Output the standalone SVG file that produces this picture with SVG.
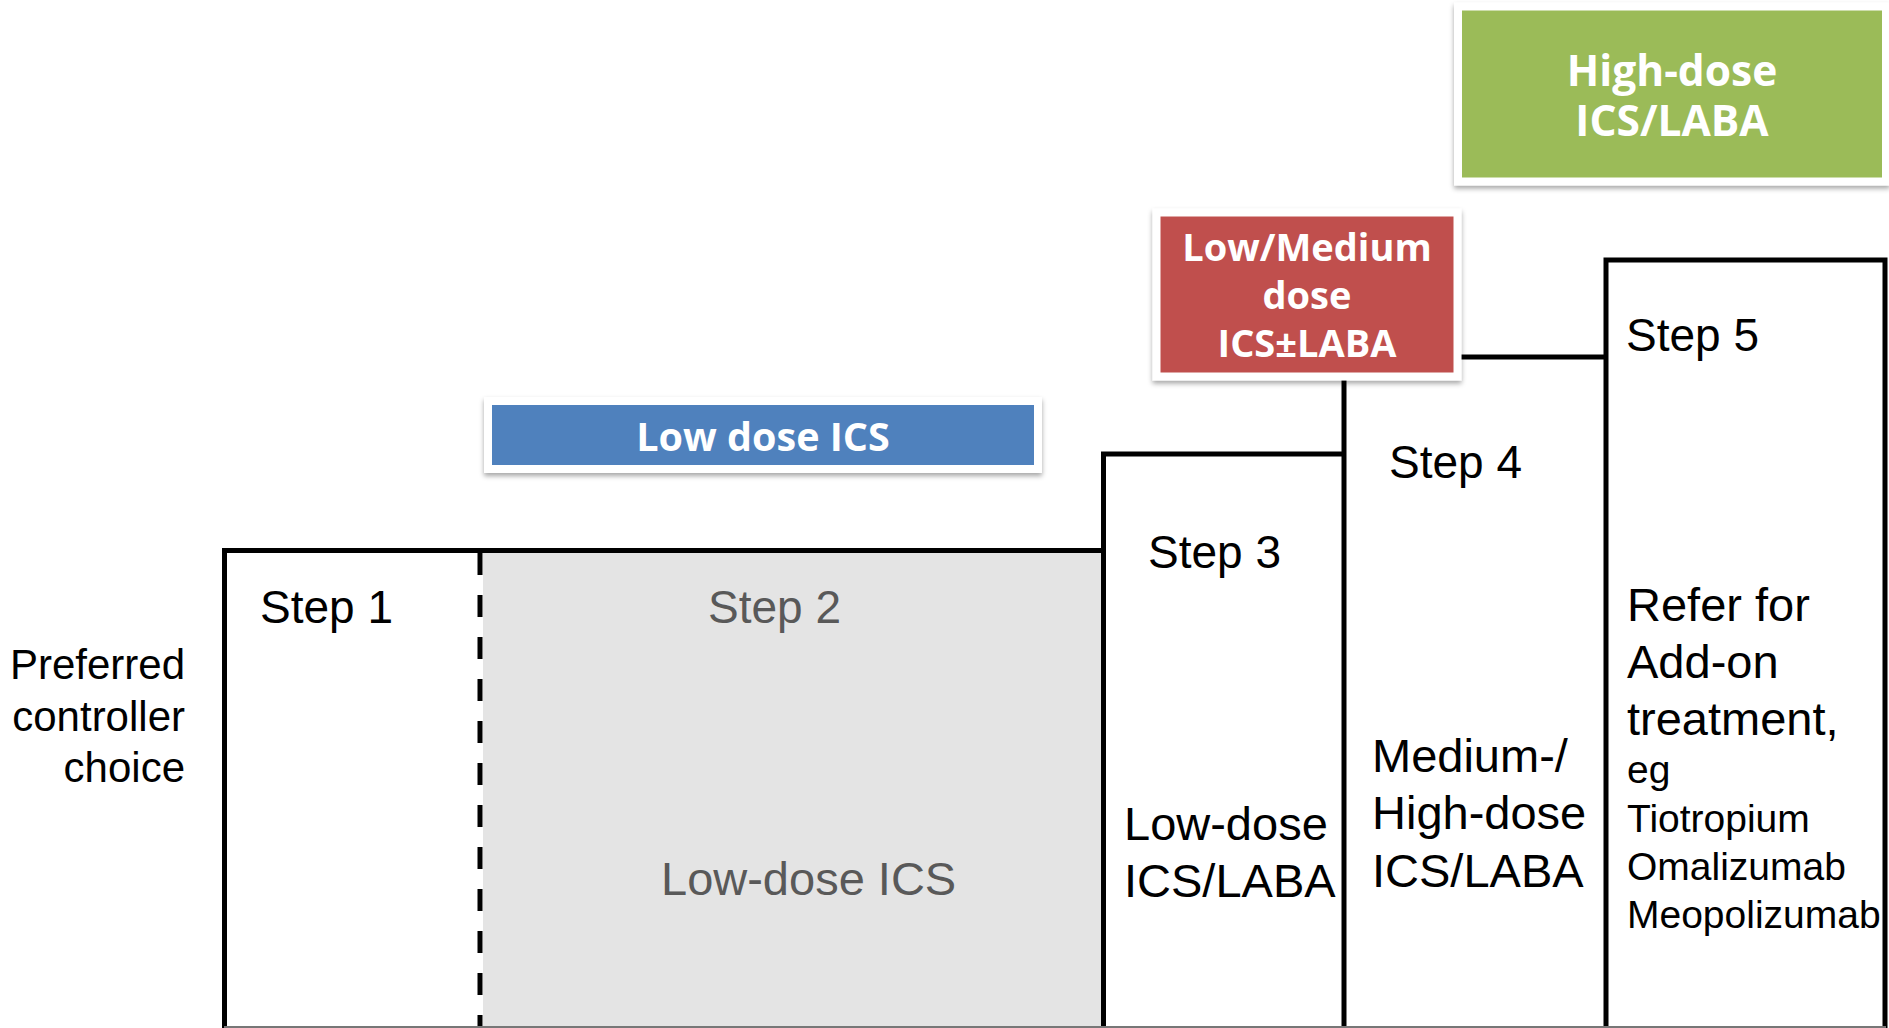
<svg xmlns="http://www.w3.org/2000/svg" width="1889" height="1028" viewBox="0 0 1889 1028">
<style>
.lbl{font-family:"Liberation Sans",Arial,sans-serif;fill:#000}
.step{font-size:46px}
.body{font-size:47px}
.small{font-size:39px}
.gray{fill:#595959}
.box{font-family:"Open Sans","DejaVu Sans",sans-serif;font-weight:bold;font-size:38px;fill:#fff;text-anchor:middle}
.ln{fill:none;stroke:#000;stroke-width:5}
.frame{stroke:#fff;stroke-width:8}
</style>
<defs>
<filter id="sh" x="-10%" y="-10%" width="130%" height="140%">
<feDropShadow dx="0" dy="3" stdDeviation="2.5" flood-color="#000" flood-opacity="0.35"/>
</filter>
</defs>
<rect width="1889" height="1028" fill="#fff"/>

<g id="step2-fill">
<rect x="483" y="553" width="619" height="475" fill="#e4e4e4"/>
</g>

<g id="connectors">
<path class="ln" d="M224.5,1028 V550.5 H1103.5"/>
<path class="ln" d="M1103.5,1028 V454 H1344"/>
<path class="ln" d="M1344,1028 V357 H1606"/>
<path class="ln" d="M1606,1028 V260 H1885 V1028"/>
<line x1="480" y1="553" x2="480" y2="1028" stroke="#000" stroke-width="5" stroke-dasharray="22 20"/>
<line x1="224" y1="1027" x2="1886" y2="1027" stroke="#777" stroke-width="2"/>
</g>

<g id="row-label">
<text class="lbl" font-size="42" text-anchor="end"><tspan x="185" y="679">Preferred</tspan><tspan x="185" y="731">controller</tspan><tspan x="185" y="782">choice</tspan></text>
</g>

<g id="step1">
<text class="lbl step" x="260" y="623">Step 1</text>
</g>

<g id="step2">
<text class="lbl step gray" x="708" y="623">Step 2</text>
<text class="lbl body gray" x="661" y="895">Low-dose ICS</text>
</g>

<g id="step3">
<text class="lbl step" x="1148" y="568">Step 3</text>
<text class="lbl body"><tspan x="1124" y="840">Low-dose</tspan><tspan x="1124" y="897">ICS/LABA</tspan></text>
</g>

<g id="step4">
<text class="lbl step" x="1389" y="478">Step 4</text>
<text class="lbl body"><tspan x="1372" y="772">Medium-/</tspan><tspan x="1372" y="829">High-dose</tspan><tspan x="1372" y="887">ICS/LABA</tspan></text>
</g>

<g id="step5">
<text class="lbl step" x="1626" y="351">Step 5</text>
<text class="lbl body"><tspan x="1627" y="621">Refer for</tspan><tspan x="1627" y="678">Add-on</tspan><tspan x="1627" y="735">treatment,</tspan></text>
<text class="lbl small"><tspan x="1627" y="783">eg</tspan><tspan x="1627" y="832">Tiotropium</tspan><tspan x="1627" y="880">Omalizumab</tspan><tspan x="1627" y="928">Meopolizumab</tspan></text>
</g>

<g id="box-low-dose-ics">
<rect class="frame" x="488" y="401" width="550" height="68" fill="#4f81bd" filter="url(#sh)"/>
<text class="box" x="763" y="451" style="font-size:39.5px">Low dose ICS</text>
</g>

<g id="box-low-medium">
<rect class="frame" x="1156.5" y="212.5" width="301" height="164" fill="#c0504d" filter="url(#sh)"/>
<text class="box"><tspan x="1307" y="261">Low/Medium</tspan><tspan x="1307" y="309">dose</tspan><tspan x="1307" y="357">ICS±LABA</tspan></text>
</g>

<g id="box-high-dose">
<rect class="frame" x="1458" y="6.5" width="428" height="175" fill="#9bbb59" filter="url(#sh)"/>
<text class="box" style="font-size:42.5px"><tspan x="1672" y="86">High-dose</tspan><tspan x="1672" y="136">ICS/LABA</tspan></text>
</g>
</svg>
